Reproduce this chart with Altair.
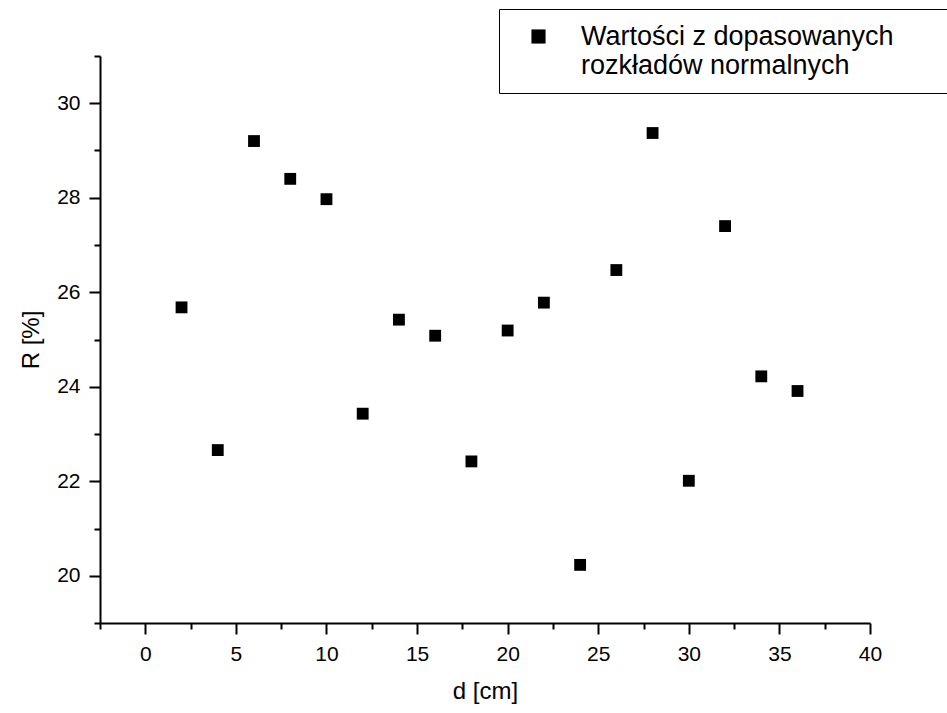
import altair as alt
import pandas as pd

# ---- data ----
d_cm = [2, 4, 6, 8, 10, 12, 14, 16, 18, 20, 22, 24, 26, 28, 30, 32, 34, 36]
r_pct = [25.68, 22.66, 29.20, 28.40, 27.97, 23.43, 25.42, 25.08, 22.42,
         25.19, 25.78, 20.23, 26.47, 29.37, 22.01, 27.40, 24.22, 23.91]
series_name = "Wartości z dopasowanych rozkładów normalnych"
legend_lines = ["Wartości z dopasowanych", "rozkładów normalnych"]

x_major = [0, 5, 10, 15, 20, 25, 30, 35, 40]
x_minor = [-2.5, 2.5, 7.5, 12.5, 17.5, 22.5, 27.5, 32.5, 37.5]
y_major = [20, 22, 24, 26, 28, 30]
y_minor = [19, 21, 23, 25, 27, 29, 31]

df = pd.DataFrame({"d": d_cm, "R": r_pct, "series": [series_name] * len(d_cm)})

FONT = "Liberation Sans"
xscale = alt.Scale(domain=[-2.5, 40], nice=False, zero=False)
yscale = alt.Scale(domain=[19, 31], nice=False, zero=False)

label_expr = "['" + legend_lines[0] + "', '" + legend_lines[1] + "']"

common_axis = dict(
    grid=False, domainColor="black", tickColor="black", labelColor="black",
    tickWidth=2, domainWidth=2, labelFont=FONT, titleFont=FONT,
    titleFontWeight="normal", titleColor="black",
)

points = alt.Chart(df).mark_point(
    shape="square", filled=True, size=140, opacity=1
).encode(
    x=alt.X("d:Q", scale=xscale, axis=alt.Axis(
        values=x_major, title="d [cm]", orient="bottom", tickSize=11,
        labelFontSize=21, labelPadding=9, titleFontSize=24, titlePadding=15,
        labelFlush=False, labelOverlap=False, **common_axis)),
    y=alt.Y("R:Q", scale=yscale, axis=alt.Axis(
        values=y_major, title="R [%]", orient="left", tickSize=11,
        labelFontSize=21, labelPadding=9, titleFontSize=24, titlePadding=13,
        labelOverlap=False, **common_axis)),
    color=alt.Color("series:N", scale=alt.Scale(range=["#000000"]), legend=alt.Legend(
        # the legend box runs past the right edge of the picture: an invisible
        # right-hand title widens the box so that its border is clipped there
        title=".", titleOrient="right", titlePadding=37, titleOpacity=0,
        titleFontSize=27,
        orient="none", legendX=399, legendY=-47, direction="vertical",
        symbolType="square", symbolSize=200, symbolFillColor="black",
        symbolStrokeWidth=0, symbolOffset=12, labelOffset=29,
        labelFont=FONT, labelFontSize=27, labelColor="black", labelLimit=2000,
        labelExpr=label_expr, padding=14, strokeColor="black", fillColor="white",
        cornerRadius=0)),
)

minor = alt.Chart(df).mark_point(opacity=0).encode(
    x=alt.X("d:Q", scale=xscale, axis=alt.Axis(
        values=x_minor, labels=False, title=None, orient="bottom", tickSize=6,
        domain=False, grid=False, tickColor="black", tickWidth=2)),
    y=alt.Y("R:Q", scale=yscale, axis=alt.Axis(
        values=y_minor, labels=False, title=None, orient="left", tickSize=6,
        domain=False, grid=False, tickColor="black", tickWidth=2)),
)

chart = alt.layer(points, minor).resolve_axis(
    x="independent", y="independent"
).properties(
    width=770, height=567,
    autosize=alt.AutoSizeParams(type="none"),
    padding={"left": 100, "top": 56, "right": 77, "bottom": 90},
    background="white",
).configure_view(stroke=None)

chart.save("out.html", embed_options={"renderer": "svg", "actions": False})
